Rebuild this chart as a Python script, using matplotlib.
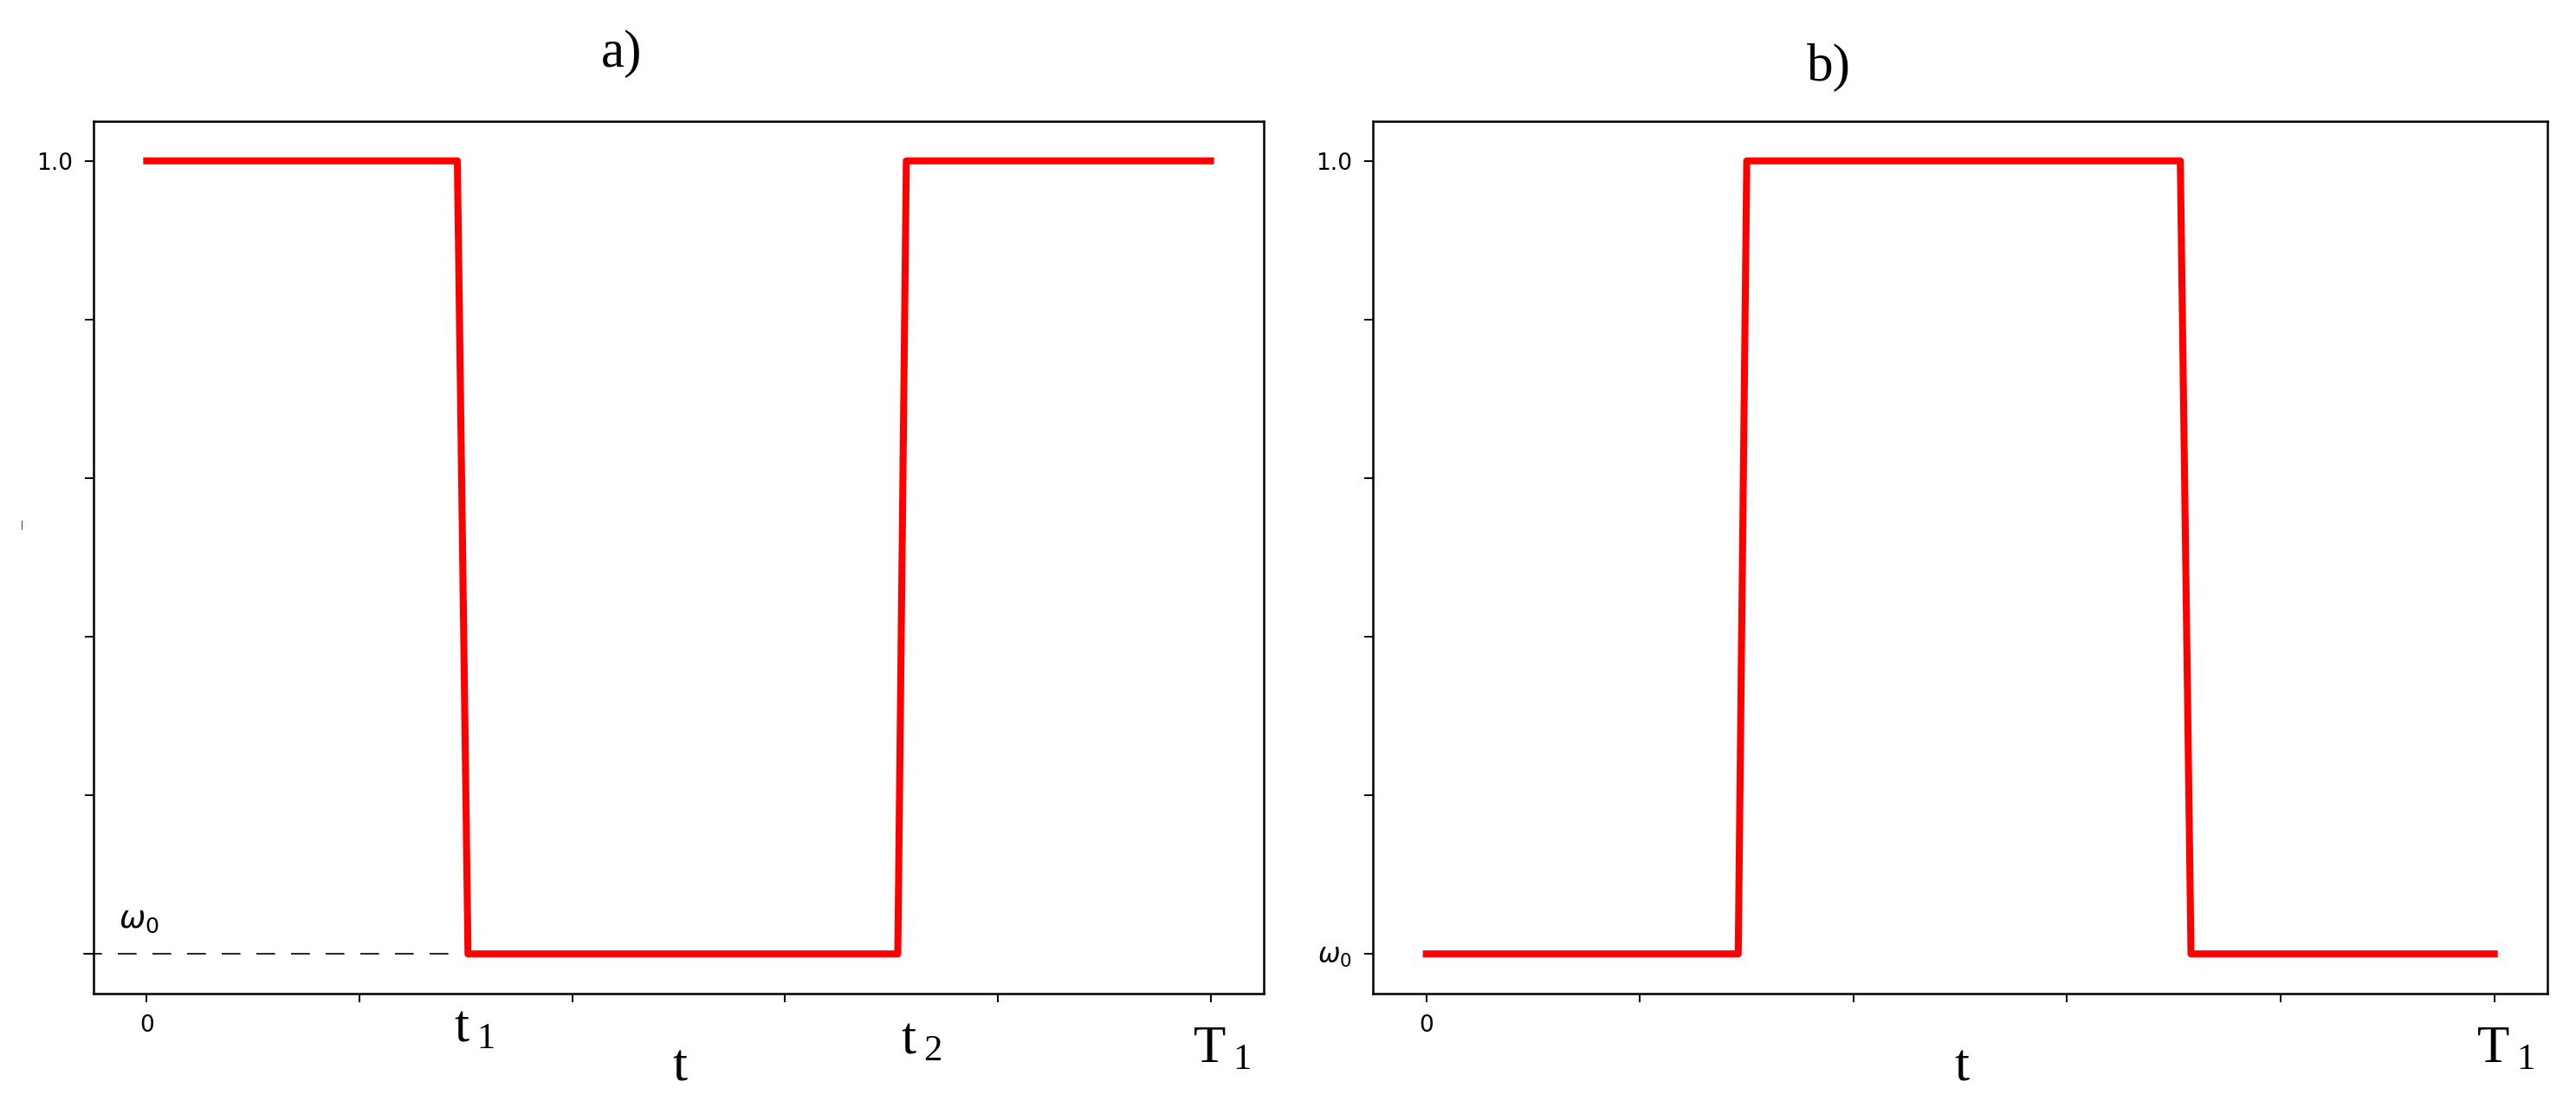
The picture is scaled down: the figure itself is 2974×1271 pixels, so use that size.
import matplotlib.pyplot as plt

plt.rcParams['mathtext.rm'] = 'Liberation Serif'
plt.rcParams['mathtext.it'] = 'Liberation Serif:italic'

# data
w0 = 0.5
t_ticks = [0, 1, 2, 3, 4, 5]
w_ticks = [0.5, 0.6, 0.7, 0.8, 0.9, 1.0]

t_a = [0, 1.46, 1.51, 3.53, 3.57, 5]
w_a = [1, 1, w0, w0, 1, 1]
t_b = [0, 1.46, 1.50, 3.53, 3.58, 5]
w_b = [w0, w0, 1, 1, w0, w0]

dash_t = [-0.30, 1.49]

xlabels = ['0', '', '', '', '', '']
ylabels_a = ['', '', '', '', '', '1.0']
ylabels_b = [r'$\omega_0$', '', '', '', '', '1.0']

serif = 'Liberation Serif'

fig = plt.figure(figsize=(29.74, 12.71), dpi=100)
ax1 = fig.add_axes([0.0363, 0.0976, 0.4543, 0.7923])
ax2 = fig.add_axes([0.5330, 0.0976, 0.4560, 0.7923])


def style(ax, ylabels):
    ax.set_xticks(t_ticks)
    ax.set_xticklabels(xlabels)
    ax.set_yticks(w_ticks)
    ax.set_yticklabels(ylabels)
    ax.set_xlim(-0.25, 5.25)
    ax.set_ylim(w0 - 0.025, 1.025)
    ax.tick_params(length=7.5, width=1.4, pad=10, labelsize=19)
    for sp in ax.spines.values():
        sp.set_linewidth(1.8)


def sub_label(ax, x, yf, main, sub, size=44):
    ax.text(x, yf, r'$\mathrm{%s}_{\;%s}$' % (main, sub), transform=ax.get_xaxis_transform(),
            ha='left', va='baseline', fontsize=size, math_fontfamily='custom', clip_on=False)


# a)
ax1.plot(t_a, w_a, color='#ff0000', lw=5.8)
ax1.plot(dash_t, [w0, w0], color='black', lw=1.2, dashes=(13, 11), clip_on=False)
ax1.text(-0.13, w0 + 0.012, r'$\omega_0$', fontsize=26, ha='left', va='bottom')
style(ax1, ylabels_a)
sub_label(ax1, 1.445, -0.0556, 't', '1')
sub_label(ax1, 3.546, -0.0695, 't', '2')
sub_label(ax1, 4.918, -0.079, 'T', '1')
ax1.text(2.47, -0.100, 't', transform=ax1.get_xaxis_transform(), ha='left', va='baseline',
         fontsize=44, family=serif)

# b)
ax2.plot(t_b, w_b, color='#ff0000', lw=5.8)
style(ax2, ylabels_b)
ax2.get_yticklabels()[0].set_fontsize(22)
sub_label(ax2, 4.915, -0.079, 'T', '1')
ax2.text(2.474, -0.100, 't', transform=ax2.get_xaxis_transform(), ha='left', va='baseline',
         fontsize=44, family=serif)

fig.text(0.2414, 0.951, 'a)', fontsize=44, family=serif, ha='center', va='center')
fig.text(0.7098, 0.9386, 'b)', fontsize=44, family=serif, ha='center', va='center')
fig.text(25 / 2974, 1 - 606 / 1271, '|', fontsize=7, ha='center', va='center')

fig.savefig('out.png', dpi=100)
